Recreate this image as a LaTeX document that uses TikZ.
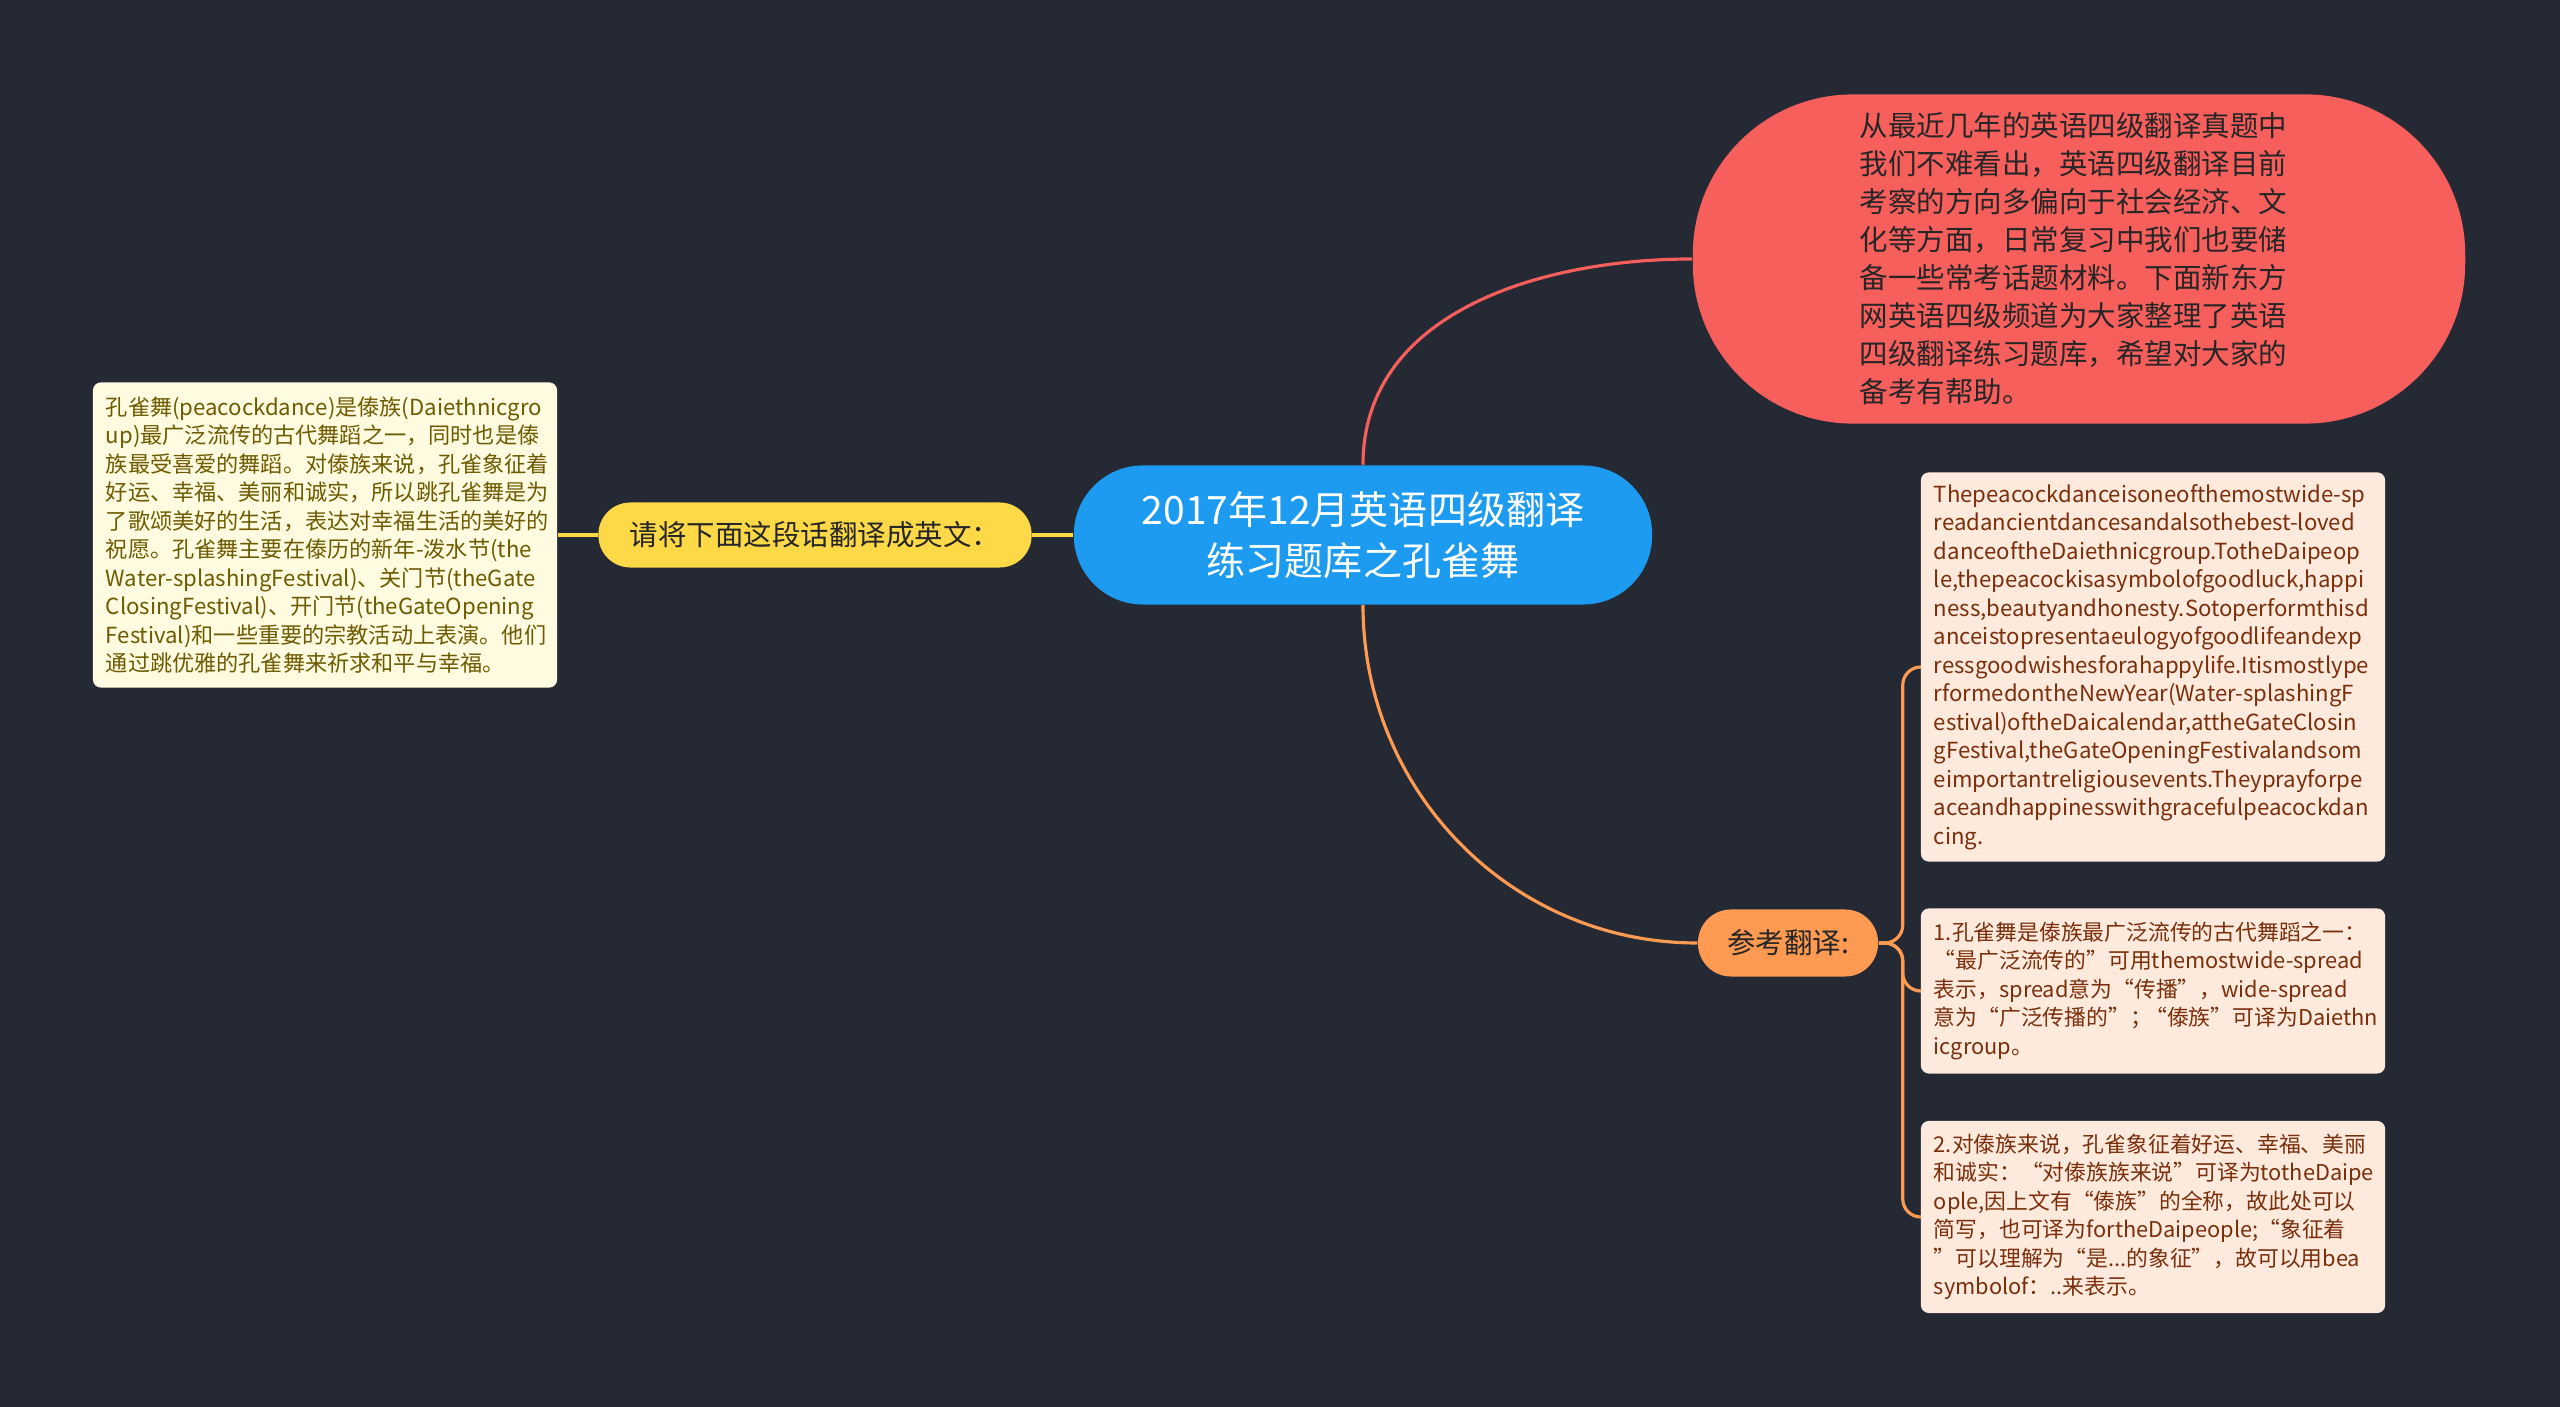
\documentclass[tikz,border=0pt]{standalone}
\usepackage{fontspec}
\setmainfont{Noto Sans CJK SC}
\usetikzlibrary{positioning}
\definecolor{bgc}{HTML}{252934}
\definecolor{titleblue}{HTML}{1C9BF0}
\definecolor{askyel}{HTML}{FDD847}
\definecolor{introred}{HTML}{F65F5C}
\definecolor{reforg}{HTML}{FF9A52}
\definecolor{srcfill}{HTML}{FFFBE0}
\definecolor{srctext}{HTML}{6E5A00}
\definecolor{ansfill}{HTML}{FEEADD}
\definecolor{anstext}{HTML}{7A2E0A}
\tikzset{
  topic/.style={fill=titleblue,text=white,rounded corners=0.69cm,align=center,
    minimum width=5.78cm,minimum height=1.39cm,font=\fontsize{11.1}{14.4}\selectfont},
  sub/.style={rounded corners=0.32cm,minimum height=0.65cm,inner sep=0pt,
    font=\fontsize{8.1}{10}\selectfont,text=black!85},
  note/.style={rounded corners=0.08cm,align=left,inner xsep=0.13cm,inner ysep=0pt,
    text width=4.38cm,minimum width=4.64cm,font=\fontsize{6.3}{8.1}\selectfont,
    execute at begin node={\exhyphenpenalty=10000 \hyphenpenalty=10000 }},
  src/.style={note,fill=srcfill,text=srctext},
  ans/.style={note,fill=ansfill,text=anstext,font=\fontsize{6.2}{8.1}\selectfont},
  link/.style={line width=0.9pt},
}

\begin{document}
\begin{tikzpicture}[x=0.01cm,y=0.01cm]
  \useasboundingbox[fill=bgc] (0,0) rectangle (2560,-1407);
  % main topic
  \node[topic] (title) at (1363,-535) {2017年12月英语四级翻译\\练习题库之孔雀舞};
  % left branch
  \node[sub,fill=askyel,minimum width=4.33cm] (ask) at (815,-535) {请将下面这段话翻译成英文：};
  \node[src,minimum height=3.05cm] (text) at (325,-535) {孔雀舞(peacockdance)是傣族(Daiethnicgro\\
    up)最广泛流传的古代舞蹈之一，同时也是傣\\
    族最受喜爱的舞蹈。对傣族来说，孔雀象征着\\
    好运、幸福、美丽和诚实，所以跳孔雀舞是为\\
    了歌颂美好的生活，表达对幸福生活的美好的\\
    祝愿。孔雀舞主要在傣历的新年-泼水节(the\\
    Water-splashingFestival)、关门节(theGate\\
    ClosingFestival)、开门节(theGateOpening\\
    Festival)和一些重要的宗教活动上表演。他们\\
    通过跳优雅的孔雀舞来祈求和平与幸福。};
  % right branches
  \node[fill=introred,text=black!85,rounded corners=1.6cm,minimum width=7.72cm,
    minimum height=3.29cm,text width=4.38cm,align=left,
    font=\fontsize{8.1}{10.8}\selectfont] (intro) at (2079,-259) {从最近几年的英语四级翻译真题中\\
    我们不难看出，英语四级翻译目前\\
    考察的方向多偏向于社会经济、文\\
    化等方面，日常复习中我们也要储\\
    备一些常考话题材料。下面新东方\\
    网英语四级频道为大家整理了英语\\
    四级翻译练习题库，希望对大家的\\
    备考有帮助。};
  \node[sub,fill=reforg,minimum width=1.8cm,minimum height=0.67cm,rounded corners=0.33cm] (ref) at (1788,-943) {参考翻译:};
  \node[ans,minimum height=3.89cm,font=\fontsize{6.3}{8.1}\selectfont] (ansa) at (2153,-667) {Thepeacockdanceisoneofthemostwide-sp\\
    readancientdancesandalsothebest-loved\\
    danceoftheDaiethnicgroup.TotheDaipeop\\
    le,thepeacockisasymbolofgoodluck,happi\\
    ness,beautyandhonesty.Sotoperformthisd\\
    anceistopresentaeulogyofgoodlifeandexp\\
    ressgoodwishesforahappylife.Itismostlype\\
    rformedontheNewYear(Water-splashingF\\
    estival)oftheDaicalendar,attheGateClosin\\
    gFestival,theGateOpeningFestivalandsom\\
    eimportantreligiousevents.Theyprayforpe\\
    aceandhappinesswithgracefulpeacockdan\\
    cing.};
  \node[ans,minimum height=1.65cm] (ansb) at (2153,-991) {1.孔雀舞是傣族最广泛流传的古代舞蹈之一：\\
    “最广泛流传的”可用themostwide-spread\\
    表示，spread意为“传播”，wide-spread\\
    意为“广泛传播的”；\kern-0.3em“傣族”可译为Daiethn\\
    icgroup。};
  \node[ans,minimum height=1.92cm] (ansc) at (2153,-1217) {2.对傣族来说，孔雀象征着好运、幸福、美丽\\
    和诚实：“对傣族族来说"可译为totheDaipe\\
    ople,因上文有“傣族”的全称，故此处可以\\
    简写，也可译为fortheDaipeople;“象征着\\
    ”可以理解为“是...的象征”，故可以用bea\\
    symbolof：..来表示。};
  % connectors
  \draw[link,askyel] (title.west) -- (ask.east);
  \draw[link,askyel] (ask.west) -- (text.east);
  \draw[link,introred] (title.north) to[out=90,in=180] (intro.west);
  \draw[link,reforg] (title.south) to[out=-90,in=180] (ref.west);
  \foreach \a in {ansa,ansb,ansc}
    \draw[link,reforg,rounded corners=0.18cm] (ref.east) -- ++(24,0) |- (\a.west);
\end{tikzpicture}
\end{document}
